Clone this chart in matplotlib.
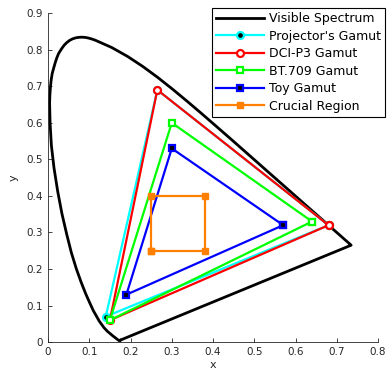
import matplotlib
matplotlib.use("Agg")
import matplotlib.pyplot as plt

# CIE 1931 spectral locus (chromaticity x, y), denser around the tip
locus_x = [0.1741, 0.1733, 0.1714, 0.1689, 0.1644, 0.1566, 0.1440, 0.1355, 0.1241,
           0.1175, 0.1096, 0.1010, 0.0913, 0.0802, 0.0687, 0.0566, 0.0454, 0.0337,
           0.0235, 0.0146, 0.0082, 0.0051, 0.0039, 0.0046, 0.0059, 0.0077, 0.0102,
           0.0139, 0.0174, 0.0212, 0.0256, 0.0320, 0.0389, 0.0454, 0.0524, 0.0594,
           0.0668, 0.0743, 0.0822, 0.0902, 0.0982, 0.1062, 0.1142, 0.1547, 0.1929,
           0.2296, 0.2658, 0.3016, 0.3373, 0.3731, 0.4087, 0.4441, 0.4788, 0.5125,
           0.5448, 0.5752, 0.6029, 0.6270, 0.6658, 0.6915, 0.7079, 0.7190, 0.7260,
           0.7300, 0.7334, 0.7347]
locus_y = [0.0050, 0.0048, 0.0051, 0.0069, 0.0109, 0.0177, 0.0297, 0.0399, 0.0578,
           0.0710, 0.0868, 0.1080, 0.1327, 0.1644, 0.2007, 0.2450, 0.2950, 0.3520,
           0.4127, 0.4765, 0.5384, 0.5986, 0.6548, 0.6766, 0.6975, 0.7171, 0.7348,
           0.7502, 0.7641, 0.7772, 0.7894, 0.8010, 0.8120, 0.8194, 0.8255, 0.8296,
           0.8324, 0.8338, 0.8343, 0.8337, 0.8319, 0.8293, 0.8262, 0.8059, 0.7816,
           0.7543, 0.7243, 0.6923, 0.6589, 0.6245, 0.5896, 0.5547, 0.5202, 0.4866,
           0.4544, 0.4242, 0.3965, 0.3725, 0.3340, 0.3083, 0.2920, 0.2809, 0.2740,
           0.2700, 0.2666, 0.2653]

proj_x = [0.68, 0.265, 0.14]
proj_y = [0.32, 0.69, 0.07]
p3_x = [0.68, 0.265, 0.15]
p3_y = [0.32, 0.69, 0.06]
bt709_x = [0.64, 0.30, 0.15]
bt709_y = [0.33, 0.60, 0.06]
toy_x = [0.57, 0.30, 0.19]
toy_y = [0.32, 0.53, 0.13]
crucial_x = [0.25, 0.38, 0.38, 0.25]
crucial_y = [0.25, 0.25, 0.40, 0.40]


def closed(v):
    return list(v) + [v[0]]


fig = plt.figure(figsize=(3.87, 3.76), dpi=100)
ax = fig.add_axes([0.124, 0.090, 0.853, 0.875])

ax.plot(closed(locus_x), closed(locus_y), color="black", lw=2, label="Visible Spectrum")
ax.plot(closed(proj_x), closed(proj_y), color="cyan", lw=1.6, marker="o", ms=5,
        mfc="black", mec="cyan", mew=1.6, label="Projector's Gamut")
ax.plot(closed(p3_x), closed(p3_y), color="red", lw=1.6, marker="o", ms=5,
        mfc="white", mec="red", mew=1.6, label="DCI-P3 Gamut")
ax.plot(closed(bt709_x), closed(bt709_y), color="#00ff00", lw=1.6, marker="s", ms=5,
        mfc="white", mec="#00ff00", mew=1.6, label="BT.709 Gamut")
ax.plot(closed(toy_x), closed(toy_y), color="blue", lw=1.6, marker="s", ms=5,
        mfc="black", mec="blue", mew=1.6, label="Toy Gamut")
ax.plot(closed(crucial_x), closed(crucial_y), color="#ff8000", lw=1.6, marker="s", ms=5,
        mfc="#ff8000", mec="#ff8000", label="Crucial Region")

ax.set_xlim(0, 0.8)
ax.set_ylim(0, 0.9)
ax.set_xticks([0, 0.1, 0.2, 0.3, 0.4, 0.5, 0.6, 0.7, 0.8])
ax.set_xticklabels(["0", "0.1", "0.2", "0.3", "0.4", "0.5", "0.6", "0.7", "0.8"])
ax.set_yticks([0, 0.1, 0.2, 0.3, 0.4, 0.5, 0.6, 0.7, 0.8, 0.9])
ax.set_yticklabels(["0", "0.1", "0.2", "0.3", "0.4", "0.5", "0.6", "0.7", "0.8", "0.9"])
ax.set_xlabel("x", fontsize=8, color="#262626", labelpad=2)
ax.set_ylabel("y", fontsize=8, color="#262626", labelpad=6)
ax.tick_params(direction="in", labelsize=7.5, colors="#262626", length=3, width=0.6)
for s in ["top", "right"]:
    ax.spines[s].set_visible(False)
for s in ["left", "bottom"]:
    ax.spines[s].set_color("#262626")
    ax.spines[s].set_linewidth(0.6)

leg = ax.legend(loc="upper right", bbox_to_anchor=(1.021, 1.016), fontsize=9,
                fancybox=False, framealpha=1, edgecolor="black", borderpad=0.35,
                labelspacing=0.36, handlelength=3.8, handletextpad=0.4,
                borderaxespad=0)
leg.get_frame().set_linewidth(0.8)

fig.savefig("out.png", dpi=100)
